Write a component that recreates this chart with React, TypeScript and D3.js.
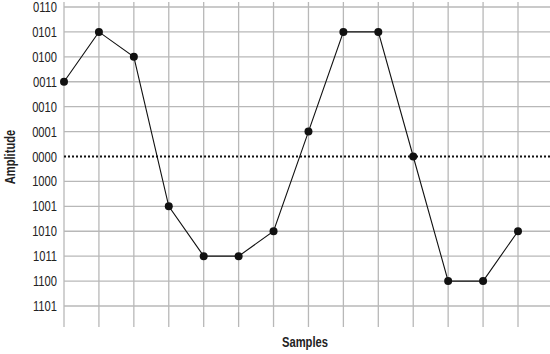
import React, { useEffect, useRef } from "react";
import * as d3 from "d3";

// amplitude codes, top to bottom as on the axis
const levels = [
  "0110", "0101", "0100", "0011", "0010", "0001", "0000",
  "1000", "1001", "1010", "1011", "1100", "1101",
];

// one code per sample
const samples = [
  "0011", "0101", "0100", "1001", "1011", "1011", "1010",
  "0001", "0101", "0101", "0000", "1100", "1100", "1010",
];

const zeroLevel = "0000";
const xTitle = "Samples";
const yTitle = "Amplitude";

const App = () => {
  const svgRef = useRef<SVGSVGElement | null>(null);

  useEffect(() => {
    if (!svgRef.current) return;

    const width = 550;
    const height = 354;
    const left = 64;
    const right = 550;
    // no condensed font installed, so squeeze Liberation Sans horizontally
    const font = "'Liberation Sans', Arial, sans-serif";
    const squeeze = 0.8;

    d3.select(svgRef.current).selectAll("*").remove();

    const svg = d3
      .select(svgRef.current)
      .attr("width", width)
      .attr("height", height);

    const x = d3.scaleLinear().domain([0, samples.length - 1]).range([64, 518]);
    const y = d3.scalePoint().domain(levels).range([7, 306]);

    // vertical grid
    svg
      .append("g")
      .selectAll("line")
      .data(d3.range(samples.length))
      .enter()
      .append("line")
      .attr("x1", (d) => x(d))
      .attr("x2", (d) => x(d))
      .attr("y1", 2)
      .attr("y2", 327)
      .attr("stroke", "#b8b8b8")
      .attr("stroke-width", 1.3);

    // horizontal grid (zero line drawn separately)
    svg
      .append("g")
      .selectAll("line")
      .data(levels.filter((l) => l !== zeroLevel))
      .enter()
      .append("line")
      .attr("x1", left)
      .attr("x2", right)
      .attr("y1", (d) => y(d)!)
      .attr("y2", (d) => y(d)!)
      .attr("stroke", "#b8b8b8")
      .attr("stroke-width", 1.3);

    svg
      .append("line")
      .attr("x1", left)
      .attr("x2", right)
      .attr("y1", y(zeroLevel)!)
      .attr("y2", y(zeroLevel)!)
      .attr("stroke", "#111")
      .attr("stroke-width", 2)
      .attr("stroke-dasharray", "2,2");

    // y tick labels
    svg
      .append("g")
      .selectAll("text")
      .data(levels)
      .enter()
      .append("text")
      .attr("transform", (d) => `translate(57,${y(d)}) scale(${squeeze},1)`)
      .attr("dy", "0.36em")
      .attr("text-anchor", "end")
      .attr("font-family", font)
      .attr("font-size", 14)
      .attr("fill", "#222")
      .text((d) => d);

    // signal line
    const line = d3
      .line<string>()
      .x((_, i) => x(i))
      .y((d) => y(d)!);

    svg
      .append("path")
      .datum(samples)
      .attr("d", line)
      .attr("fill", "none")
      .attr("stroke", "#111")
      .attr("stroke-width", 1.1);

    svg
      .append("g")
      .selectAll("circle")
      .data(samples)
      .enter()
      .append("circle")
      .attr("cx", (_, i) => x(i))
      .attr("cy", (d) => y(d)!)
      .attr("r", 4)
      .attr("fill", "#111");

    // axis titles
    svg
      .append("text")
      .attr("transform", `translate(305,347) scale(${squeeze},1)`)
      .attr("text-anchor", "middle")
      .attr("font-family", font)
      .attr("font-weight", "bold")
      .attr("font-size", 14)
      .attr("fill", "#222")
      .text(xTitle);

    svg
      .append("text")
      .attr("transform", `translate(15,157) rotate(-90) scale(${squeeze},1)`)
      .attr("text-anchor", "middle")
      .attr("font-family", font)
      .attr("font-weight", "bold")
      .attr("font-size", 14)
      .attr("fill", "#222")
      .text(yTitle);
  }, []);

  return (
    <svg
      ref={svgRef}
      style={{ position: "absolute", left: 0, top: 0, background: "#fff" }}
    ></svg>
  );
};

export default App;
